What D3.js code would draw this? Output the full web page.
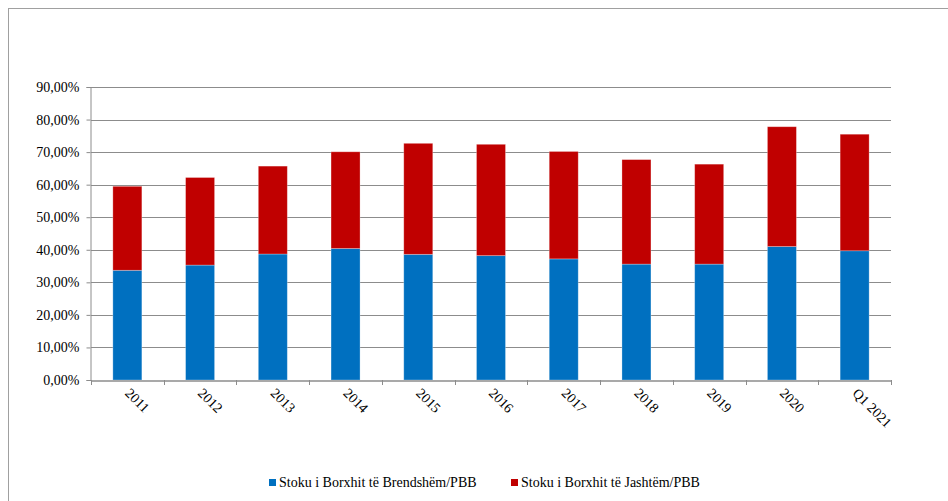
<!DOCTYPE html>
<html><head><meta charset="utf-8">
<script src="https://cdn.jsdelivr.net/npm/d3@7"></script>
<style>body{margin:0;background:#fff}svg{display:block}</style>
</head><body>
<script>
const categories = ["2011","2012","2013","2014","2015","2016","2017","2018","2019","2020","Q1 2021"];
const domestic = [33.7,35.3,38.7,40.4,38.6,38.2,37.2,35.6,35.6,41.0,39.7];
const external = [25.8,26.9,27.0,29.7,34.1,34.2,33.0,32.1,30.7,36.8,35.8];
const seriesNames = ["Stoku i Borxhit të Brendshëm/PBB","Stoku i Borxhit të Jashtëm/PBB"];
const colors = ["#0070C0","#C00000"];
const yTicks = [0,10,20,30,40,50,60,70,80,90];

const W=948,H=501;
const m={left:91,right:57,top:87,bottom:121};
const svg=d3.select("body").append("svg").attr("width",W).attr("height",H);
svg.append("rect").attr("x",8.5).attr("y",8.5).attr("width",W+20).attr("height",H+20)
  .attr("fill","none").attr("stroke","#a0a0a0").attr("stroke-width",1);

const xb=d3.scaleBand().domain(categories).range([m.left,W-m.right]);
const y=d3.scaleLinear().domain([0,90]).range([H-m.bottom,m.top]);
const font="'Liberation Serif','Times New Roman',serif";

// gridlines
svg.append("g").selectAll("line").data(yTicks.slice(1)).join("line")
  .attr("x1",m.left).attr("x2",W-m.right).attr("y1",d=>Math.round(y(d))+0.5).attr("y2",d=>Math.round(y(d))+0.5)
  .attr("stroke","#8c8c8c").attr("stroke-width",1);

const data=categories.map((c,i)=>({cat:c,domestic:domestic[i],external:external[i]}));
const stack=d3.stack().keys(["domestic","external"])(data);
svg.append("g").selectAll("g").data(stack).join("g").attr("fill",(d,i)=>colors[i])
  .selectAll("rect").data(d=>d).join("rect")
  .attr("x",d=>xb(d.data.cat)+xb.bandwidth()/2-14.5).attr("width",29)
  .attr("y",d=>y(d[1])).attr("height",d=>y(d[0])-y(d[1]))
  .attr("stroke","rgba(255,255,255,0.35)").attr("stroke-width",0.8);

// y axis
const yAxis=svg.append("g").attr("transform",`translate(${m.left-0.5},0)`)
  .call(d3.axisLeft(y).tickValues(yTicks).tickSize(4).tickPadding(7)
    .tickFormat(d=>d3.format(".2f")(d).replace(".",",")+"%"));
yAxis.selectAll("path,line").attr("stroke","#8c8c8c");
yAxis.selectAll("text").attr("font-family",font).attr("font-size",14).attr("fill","#000");

// x axis
const xAxis=svg.append("g").attr("transform",`translate(0,${y(0)+0.5})`)
  .call(d3.axisBottom(xb).tickSize(0).tickFormat(""));
xAxis.select("path").attr("stroke","#8c8c8c").attr("stroke-width",1.5);
svg.append("g").selectAll("line").data(categories.concat(["_end"])).join("line")
  .attr("x1",(d,i)=>Math.round(m.left+i*xb.bandwidth())+0.5).attr("x2",(d,i)=>Math.round(m.left+i*xb.bandwidth())+0.5)
  .attr("y1",y(0)).attr("y2",y(0)+5).attr("stroke","#8c8c8c");
svg.append("g").selectAll("text").data(categories).join("text")
  .attr("transform",d=>`translate(${xb(d)+xb.bandwidth()/2-3},${y(0)+14}) rotate(45)`)
  .attr("font-family",font).attr("font-size",14).attr("fill","#000").text(d=>d);

// legend
const legX=[269,511];
const lg=svg.append("g");
seriesNames.forEach((s,i)=>{
  lg.append("rect").attr("x",legX[i]).attr("y",479).attr("width",7).attr("height",7).attr("fill",colors[i]);
  lg.append("text").attr("x",legX[i]+10).attr("y",487).attr("font-family",font).attr("font-size",14).attr("fill","#000").text(s);
});
</script>
</body></html>
